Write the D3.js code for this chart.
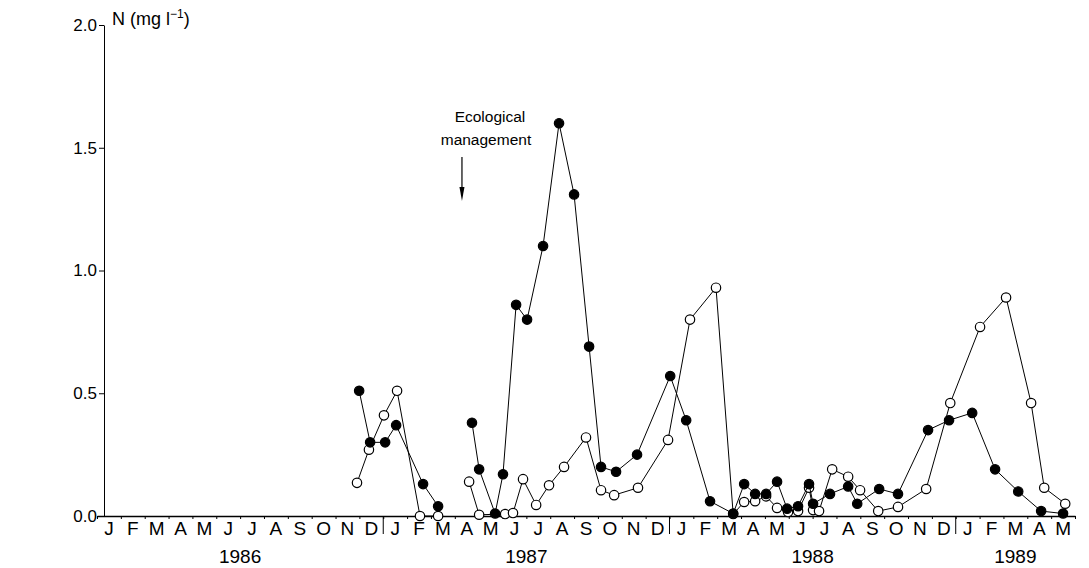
<!DOCTYPE html>
<html>
<head>
<meta charset="utf-8">
<script src="https://cdn.jsdelivr.net/npm/d3@7"></script>
<style>
  body { margin: 0; background: #fff; }
  svg { font-family: "Liberation Sans", Arial, Helvetica, sans-serif; }
</style>
</head>
<body>
<div id="chart"></div>
<script>
// month letters and years shown under the axis
const months = ["J", "F", "M", "A", "M", "J", "J", "A", "S", "O", "N", "D"];
const years = [1986, 1987, 1988, 1989];
const yTicks = [0, 0.5, 1.0, 1.5, 2.0];
const nMonths = 41; // Jan 1986 .. May 1989

// sampling time in months since 1 Jan 1986, null = break (ecological management)
const filledT = [10.99, 11.45, 12.08, 12.54, 13.67, 14.30, null,
  15.72, 16.02, 16.69, 17.02, 17.57, 18.03, 18.70, 19.37, 20.00, 20.63, 21.13, 21.76, 22.64,
  24.03, 24.70, 25.70, 26.67, 27.13, 27.59, 28.05, 28.51, 28.93, 29.39, 29.85, 30.02, 30.73,
  31.49, 31.87, 32.79, 33.58, 34.84, 35.72, 36.69, 37.65, 38.62, 39.58, 40.50];
const filledN = [0.51, 0.30, 0.30, 0.37, 0.13, 0.04, null,
  0.38, 0.19, 0.01, 0.17, 0.86, 0.80, 1.10, 1.60, 1.31, 0.69, 0.20, 0.18, 0.25,
  0.57, 0.39, 0.06, 0.01, 0.13, 0.09, 0.09, 0.14, 0.03, 0.04, 0.13, 0.05, 0.09,
  0.12, 0.05, 0.11, 0.09, 0.35, 0.39, 0.42, 0.19, 0.10, 0.02, 0.01];

const openT = [10.90, 11.40, 12.03, 12.58, 13.54, 14.30, null,
  15.60, 16.02, 17.11, 17.44, 17.86, 18.41, 18.95, 19.58, 20.50, 21.13, 21.68, 22.68,
  23.94, 24.86, 25.95, 26.67, 27.13, 27.59, 28.05, 28.51, 28.97, 29.39, 29.85, 30.02, 30.27,
  30.82, 31.49, 31.99, 32.75, 33.58, 34.76, 35.77, 37.02, 38.11, 39.16, 39.71, 40.59];
const openN = [0.135, 0.27, 0.41, 0.51, 0.0, 0.0, null,
  0.14, 0.005, 0.008, 0.012, 0.15, 0.045, 0.125, 0.20, 0.32, 0.105, 0.085, 0.115,
  0.31, 0.80, 0.93, 0.008, 0.057, 0.06, 0.08, 0.033, 0.016, 0.02, 0.115, 0.024, 0.02,
  0.19, 0.16, 0.105, 0.02, 0.037, 0.11, 0.46, 0.77, 0.89, 0.46, 0.115, 0.05];

const managementT = 15.3;

const width = 1089, height = 568;
const svg = d3.select("#chart").append("svg")
  .attr("width", width)
  .attr("height", height);

const x = d3.scaleLinear().domain([0, nMonths]).range([97, 1075]);
const y = d3.scaleLinear().domain([0, 2]).range([516, 25]);

// x axis: small ticks at month boundaries
svg.append("g")
  .attr("transform", `translate(0,${y(0)})`)
  .call(d3.axisBottom(x).tickValues(d3.range(0, nMonths + 1)).tickSize(3).tickSizeOuter(0).tickFormat(""))
  .call(g => g.select(".domain").attr("stroke-width", 1.6));

// year dividers
svg.selectAll(".yeardiv")
  .data([12, 24, 36])
  .enter().append("line")
  .attr("x1", d => x(d)).attr("x2", d => x(d))
  .attr("y1", y(0)).attr("y2", y(0) + 18)
  .attr("stroke", "#000").attr("stroke-width", 1);

// month letters
svg.selectAll(".month")
  .data(d3.range(0, nMonths))
  .enter().append("text")
  .attr("x", d => x(d + 0.5))
  .attr("y", 535)
  .attr("text-anchor", "middle")
  .attr("font-size", 19)
  .text(d => months[d % 12]);

// year labels, centred on the months shown for each year
svg.selectAll(".year")
  .data(years)
  .enter().append("text")
  .attr("x", (d, i) => x((i * 12 + Math.min(i * 12 + 12, nMonths)) / 2))
  .attr("y", 563)
  .attr("text-anchor", "middle")
  .attr("font-size", 19)
  .text(d => d);

// y axis
const yAxis = svg.append("g")
  .attr("transform", "translate(104,0)")
  .call(d3.axisLeft(y).tickValues(yTicks).tickSize(5).tickSizeOuter(0).tickPadding(2).tickFormat(d3.format(".1f")));
yAxis.selectAll("text").attr("font-size", 17).attr("fill", "#000").attr("font-family", "Liberation Sans, Arial, sans-serif");

// axis title N (mg l-1)
const title = svg.append("text")
  .attr("x", 112).attr("y", 25)
  .attr("font-size", 18);
title.append("tspan").text("N (mg l");
title.append("tspan").attr("font-size", 12).attr("dy", -7).text("\u22121");
title.append("tspan").attr("dy", 7).text(")");

// ecological management annotation
const ax = x(managementT);
svg.append("text").attr("x", ax + 28).attr("y", 122).attr("text-anchor", "middle")
  .attr("font-size", 15.5).text("Ecological");
svg.append("text").attr("x", ax + 24).attr("y", 145).attr("text-anchor", "middle")
  .attr("font-size", 15.5).text("management");
svg.append("line").attr("x1", ax).attr("x2", ax).attr("y1", 157).attr("y2", 190)
  .attr("stroke", "#000").attr("stroke-width", 1.2);
svg.append("path")
  .attr("d", `M${ax - 2.5},187 L${ax + 2.5},187 L${ax},201 Z`)
  .attr("fill", "#000");

// series
function drawSeries(ts, ns, filled) {
  const pts = ts.map((t, i) => ({ t: t, n: ns[i] }));
  const line = d3.line()
    .defined(d => d.t !== null && d.n !== null)
    .x(d => x(d.t))
    .y(d => y(d.n));
  svg.append("path")
    .datum(pts)
    .attr("fill", "none")
    .attr("stroke", "#000")
    .attr("stroke-width", 1)
    .attr("d", line);
  svg.append("g").selectAll("circle")
    .data(pts.filter(d => d.t !== null))
    .enter().append("circle")
    .attr("cx", d => x(d.t))
    .attr("cy", d => y(d.n))
    .attr("r", 4.7)
    .attr("fill", filled ? "#000" : "#fff")
    .attr("stroke", "#000")
    .attr("stroke-width", 1.2);
}

drawSeries(openT, openN, false);
drawSeries(filledT, filledN, true);
</script>
</body>
</html>
